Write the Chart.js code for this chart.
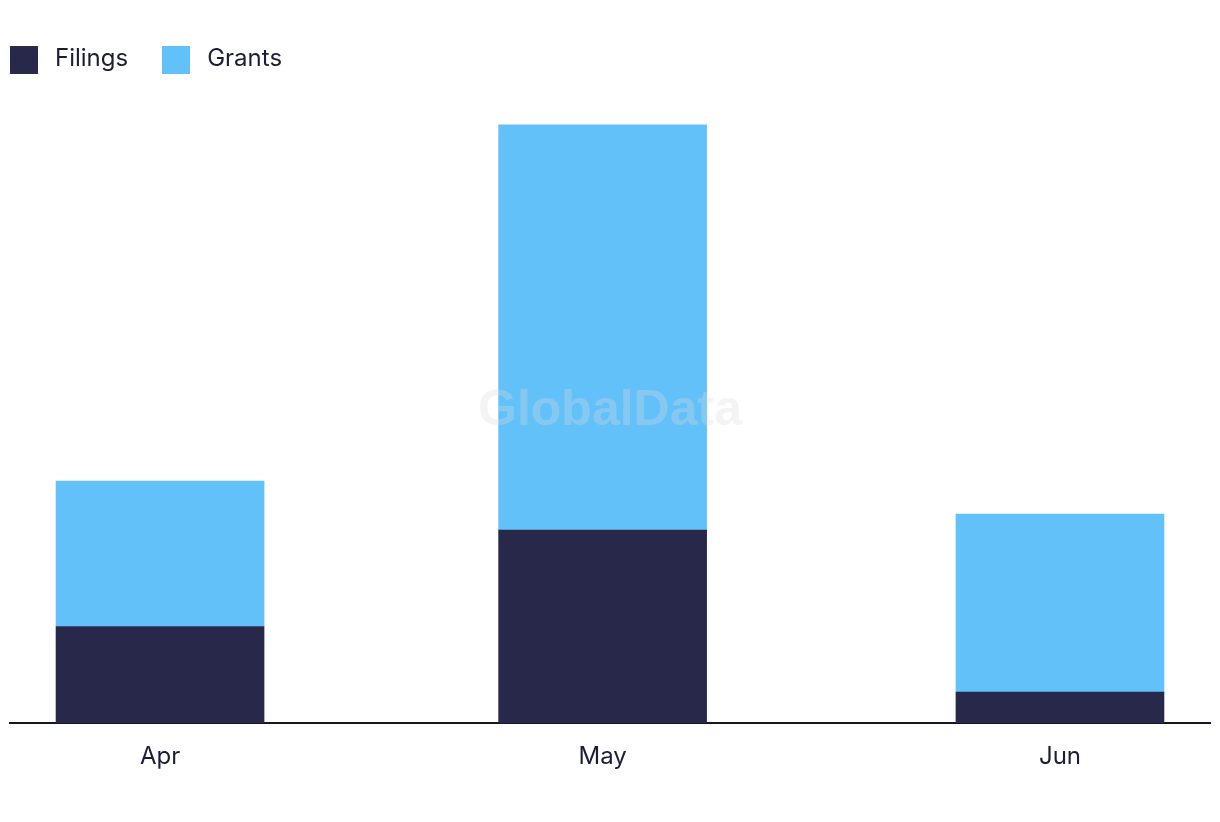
<!DOCTYPE html>
<html>
<head>
<meta charset="utf-8">
<script src="https://cdn.jsdelivr.net/npm/chart.js@4.4.1/dist/chart.umd.min.js"></script>
<style>
  html, body { margin: 0; padding: 0; background: #fff; }
  #wrap { position: relative; width: 1220px; height: 822px; }
  #legend { position: absolute; left: 10px; top: 46px; display: flex; font-family: Inter, "Noto Sans", sans-serif; font-size: 24px; color: #1c1c36; }
  .item { display: flex; align-items: center; margin-right: 34px; height: 28px; }
  .box { width: 28px; height: 28px; margin-right: 17px; }
  .item span:last-child { position: relative; top: -3px; }
</style>
</head>
<body>
<div id="wrap">
  <canvas id="chart" width="1220" height="822"></canvas>
  <div id="legend"></div>
</div>
<script>
// months on the x axis, placed by day offset from Apr 1
const categories = ["Apr", "May", "Jun"];
const dayOffsets = [0, 30, 61];

const filings = [15, 30, 4.8];
const grants = [22.6, 63, 27.7];

const seriesNames = ["Filings", "Grants"];
const seriesColors = ["#28284b", "#62c1f9"];

const textColor = "#1c1c36";

function points(values) {
  return values.map((v, i) => ({ x: dayOffsets[i], y: v }));
}

// faint watermark in the middle of the plot
const watermark = {
  id: "watermark",
  afterDatasetsDraw(chart) {
    const { ctx, chartArea } = chart;
    ctx.save();
    ctx.font = "bold 50px 'Liberation Sans', Arial, sans-serif";
    ctx.fillStyle = "rgba(220,220,220,0.3)";
    ctx.textAlign = "center";
    ctx.textBaseline = "middle";
    ctx.fillText("GlobalData", (chartArea.left + chartArea.right) / 2, (chartArea.top + chartArea.bottom) / 2 - 6);
    ctx.restore();
  },
};

const chart = new Chart(document.getElementById("chart").getContext("2d"), {
  type: "bar",
  data: {
    datasets: [
      { label: seriesNames[0], data: points(filings), backgroundColor: seriesColors[0] },
      { label: seriesNames[1], data: points(grants), backgroundColor: seriesColors[1] },
    ],
  },
  options: {
    responsive: false,
    animation: false,
    barThickness: 208,
    layout: { padding: { left: 10, right: 10, top: 112, bottom: 0 } },
    plugins: {
      legend: { display: false },
      tooltip: { enabled: false },
    },
    scales: {
      x: {
        type: "linear",
        stacked: true,
        offset: false,
        min: -10.17,
        max: 71.17,
        afterBuildTicks(scale) {
          scale.ticks = dayOffsets.map((v) => ({ value: v }));
        },
        afterFit(scale) {
          scale.height = 99;
        },
        grid: { color: "rgba(0,0,0,0)", drawTicks: false, offset: false },
        border: { display: true, color: "#15152e", width: 2 },
        ticks: {
          padding: 19,
          color: textColor,
          font: { family: "Inter", size: 24 },
          callback: (v) => categories[dayOffsets.indexOf(v)] || "",
        },
      },
      y: {
        display: false,
        stacked: true,
        min: 0,
        max: 95,
      },
    },
  },
  plugins: [watermark],
});

// legend built from the chart's datasets
const legend = document.getElementById("legend");
chart.data.datasets.forEach((ds) => {
  const item = document.createElement("div");
  item.className = "item";
  const box = document.createElement("span");
  box.className = "box";
  box.style.background = ds.backgroundColor;
  const label = document.createElement("span");
  label.textContent = ds.label;
  item.appendChild(box);
  item.appendChild(label);
  legend.appendChild(item);
});
</script>
</body>
</html>
